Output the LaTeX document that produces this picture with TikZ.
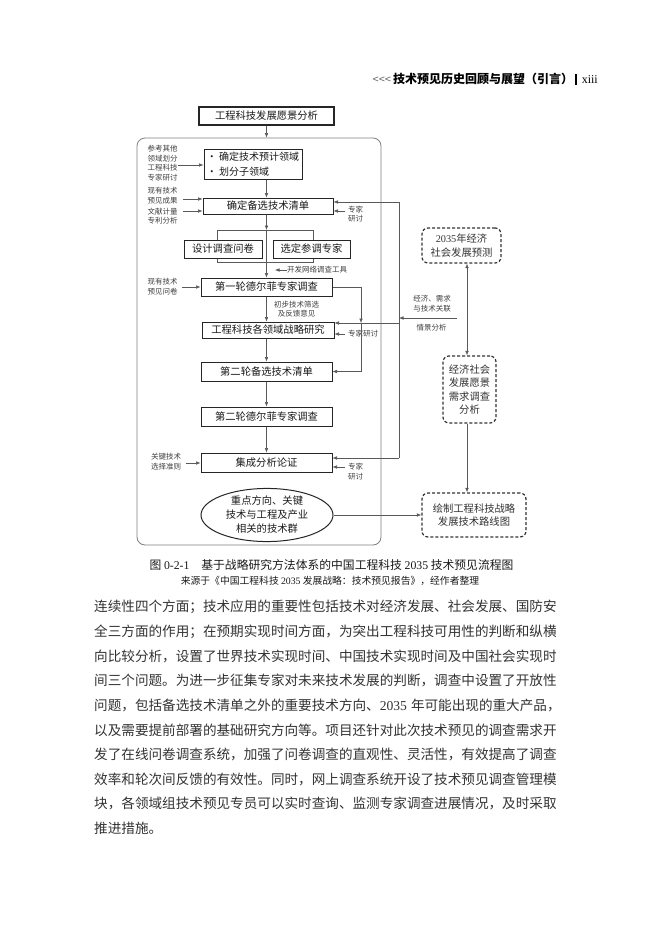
\documentclass[tikz,border=0pt]{standalone}
\usepackage{fontspec}
\setmainfont{Liberation Serif}
\newfontfamily\cjk{Noto Sans CJK SC}
\usetikzlibrary{arrows.meta,shapes.geometric,calc}
\XeTeXlinebreaklocale "zh"
\XeTeXlinebreakskip=0pt plus 1fil
\newcommand{\bodyline}[1]{\makebox[476pt][s]{#1}}
\tikzset{
 box/.style={draw=black!85, line width=1pt, inner sep=0pt, align=center, font=\cjk\fontsize{10.3}{12.5}\selectfont, text=black!90},
 wh/.style 2 args={minimum width=#1, minimum height=#2},
 dbox/.style={draw=black!80, line width=1.2pt, dash pattern=on 3pt off 2pt, rounded corners=6pt, inner sep=0pt, align=center, font=\cjk\fontsize{10.3}{13.5}\selectfont, text=black!80},
 lab/.style={inner sep=0pt, align=center, font=\cjk\fontsize{7.5}{9.6}\selectfont, text=black!75},
 conn/.style={draw=black!65, line width=0.6pt},
 arr/.style={conn, -{Latex[length=4.5pt,width=3.6pt]}},
 dblarr/.style={conn, {Latex[length=4.5pt,width=3.6pt]}-{Latex[length=4.5pt,width=3.6pt]}},
 container/.style={draw=black!50, line width=0.8pt, rounded corners=8pt, inner sep=0pt},
 body/.style={anchor=west, inner sep=0pt, font=\cjk\fontsize{13.6}{16}\selectfont, text=black!80},
}
\begin{document}
\begin{tikzpicture}[x=1pt,y=-1pt]
\fill[white] (0,0) rectangle (661,926);
\path[use as bounding box] (0,0) rectangle (661,926);

% header
\node[anchor=east, inner sep=0pt] (hdr) at (598,79)
 {\textcolor{black!60}{\cjk\fontsize{11}{12}\selectfont <<<}\hspace{2pt}{\cjk\bfseries\fontsize{12}{14}\selectfont 技术预见历史回顾与展望（引言）}\hspace{2pt}\rule[-1.5pt]{1.8pt}{11pt}\hspace{5pt}{\fontsize{12}{14}\selectfont xiii}};

% outer container
\node[container, wh={244}{407}] (outer) at (259,341.5) {};
\coordinate (ax) at (266.5,0);

% main boxes
\node[box, line width=1.3pt, wh={135}{18}] (top) at (266.5,116) {工程科技发展愿景分析};
\node[box, wh={98}{30}, align=left, font=\cjk\fontsize{10}{15}\selectfont] (b2) at (253,164) {• 确定技术预计领域\\• 划分子领域};
\node[box, wh={130}{16}] (b3) at (268,206) {确定备选技术清单};
\node[box, wh={78}{18}] (q1) at (223,249) {设计调查问卷};
\node[box, wh={77}{18}] (q2) at (311.5,249) {选定参调专家};
\node[box, wh={131}{18}] (b4) at (266.5,287) {第一轮德尔菲专家调查};
\node[box, wh={132}{16}] (b5) at (268,330) {工程科技各领域战略研究};
\node[box, wh={131}{19}] (b6) at (266.5,371.5) {第二轮备选技术清单};
\node[box, wh={131}{19}] (b7) at (266.5,416.5) {第二轮德尔菲专家调查};
\node[box, wh={131}{19}] (b8) at (266.5,462.5) {集成分析论证};
\node[box, ellipse, wh={132}{44}, font=\cjk\fontsize{10.3}{14}\selectfont] (ell) at (267,515) {重点方向、关键\\技术与工程及产业\\相关的技术群};

% dashed boxes
\node[dbox, wh={79}{35}] (d1) at (461.5,245.5) {{\rmfamily 2035}年经济\\社会发展预测};
\node[dbox, wh={53}{67}] (d2) at (469.5,389.5) {经济社会\\发展愿景\\需求调查\\分析};
\node[dbox, wh={104}{44}] (d3) at (474,515) {绘制工程科技战略\\发展技术路线图};

% left labels
\node[lab] (l1) at (162.5,163) {参考其他\\领域划分\\工程科技\\专家研讨};
\node[lab] (l2) at (162.5,195.5) {现有技术\\预见成果};
\node[lab] (l3) at (162.5,216) {文献计量\\专利分析};
\node[lab] (l4) at (162.5,286.5) {现有技术\\预见问卷};
\node[lab] (l5) at (166,461.5) {关键技术\\选择准则};

% right small labels
\node[lab] (r3) at (355.5,214) {专家\\研讨};
\node[lab, anchor=west] (dev) at (287,270) {开发网络调查工具};
\node[lab] (fb) at (296.5,309) {初步技术筛选\\及反馈意见};
\node[lab, anchor=west] (r5) at (348,334) {专家研讨};
\node[lab] (r8) at (355.5,471.5) {专家\\研讨};
\node[lab] (ec) at (432,303.5) {经济、需求\\与技术关联};
\node[lab] (sc) at (431.5,328) {情景分析};

% coordinates
\coordinate (la1) at (178,165);
\coordinate (la2) at (183,199);
\coordinate (la3) at (183,211);
\coordinate (la4) at (182,287);
\coordinate (la5) at (186,463);
\coordinate (ra3) at (345,211);
\coordinate (ra5) at (345,334);
\coordinate (ra8) at (345,467);
\coordinate (devend) at (275,270);
\coordinate (brTL) at (217,230);
\coordinate (brTR) at (313,230);
\coordinate (brBL) at (217,262);
\coordinate (brBR) at (313,262);
\coordinate (k1) at (361,287);
\coordinate (k2) at (361,323);
\coordinate (vtop) at (399,202);
\coordinate (v5) at (399,323);
\coordinate (vbot) at (399,458);
\coordinate (r0) at (457,318);
\coordinate (vr) at (399,318);
\coordinate (vx) at (467,0);

% main flow
\draw[arr] (top.south -| ax) -- (outer.north -| ax);
\draw[arr] (b2.south -| ax) -- (b3.north -| ax);
\draw[arr] (b3.south -| ax) -- (brTL -| ax);
\draw[conn] (q1.north -| brTL) -- (brTL) -- (brTR) -- (q2.north -| brTR);
\draw[conn] (q1.south -| brBL) -- (brBL) -- (brBR) -- (q2.south -| brBR);
\draw[conn] (brTL -| ax) -- (brBL -| ax);
\draw[arr] (brBL -| ax) -- (b4.north -| ax);
\draw[arr] (b4.south -| ax) -- (b5.north -| ax);
\draw[arr] (b5.south -| ax) -- (b6.north -| ax);
\draw[arr] (b6.south -| ax) -- (b7.north -| ax);
\draw[arr] (b7.south -| ax) -- (b8.north -| ax);

% left arrows
\draw[arr] (la1) -- (la1 -| b2.west);
\draw[arr] (la2) -- (la2 -| b3.west);
\draw[arr] (la3) -- (la3 -| b3.west);
\draw[arr] (la4) -- (la4 -| b4.west);
\draw[arr] (la5) -- (la5 -| b8.west);

% right small arrows
\draw[arr] (ra3) -- (ra3 -| b3.east);
\draw[arr] (ra5) -- (ra5 -| b5.east);
\draw[arr] (ra8) -- (ra8 -| b8.east);
\draw[arr] (dev.west) -- (devend);

% feedback from round 1
\draw[conn] (b4.east) -- (k1);
\draw[arr] (k1) -- (k2);
\draw[arr] (k2) -- (k2 |- b6.east) -- (b6.east);

% right vertical distribution
\draw[conn] (vtop) -- (vbot);
\draw[arr] (vtop) -- (vtop -| b3.east);
\draw[arr] (v5) -- (v5 -| b5.east);
\draw[arr] (vbot) -- (vbot -| b8.east);
\draw[arr] (r0) -- (vr);

% right column
\draw[dblarr] (d1.south -| vx) -- (d2.north -| vx);
\draw[arr] (d2.south -| vx) -- (d3.north -| vx);
\draw[arr] (ell.east) -- (ell.east -| d3.west);

% caption
\node[inner sep=0pt, font=\cjk\fontsize{11.8}{14}\selectfont, text=black!90] (cap1) at (331.5,565)
 {图 {\rmfamily 0-2-1}\hspace{1em}基于战略研究方法体系的中国工程科技 {\rmfamily 2035} 技术预见流程图};
\node[inner sep=0pt, font=\cjk\fontsize{9.8}{12}\selectfont, text=black!90] (cap2) at (330,581)
 {来源于《中国工程科技 {\rmfamily 2035} 发展战略：技术预见报告》，经作者整理};

% body text
\node[body] (t1) at (94,607) {\bodyline{连续性四个方面；技术应用的重要性包括技术对经济发展、社会发展、国防安}};
\node[body] (t2) at (94,631.6) {\bodyline{全三方面的作用；在预期实现时间方面，为突出工程科技可用性的判断和纵横}};
\node[body] (t3) at (94,656.2) {\bodyline{向比较分析，设置了世界技术实现时间、中国技术实现时间及中国社会实现时}};
\node[body] (t4) at (94,680.8) {\bodyline{间三个问题。为进一步征集专家对未来技术发展的判断，调查中设置了开放性}};
\node[body] (t5) at (94,705.4) {\bodyline{问题，包括备选技术清单之外的重要技术方向、\mbox{{\rmfamily 2035}\hspace{4pt}年}可能出现的重大产品，}};
\node[body] (t6) at (94,730) {\bodyline{以及需要提前部署的基础研究方向等。项目还针对此次技术预见的调查需求开}};
\node[body] (t7) at (94,754.6) {\bodyline{发了在线问卷调查系统，加强了问卷调查的直观性、灵活性，有效提高了调查}};
\node[body] (t8) at (94,779.2) {\bodyline{效率和轮次间反馈的有效性。同时，网上调查系统开设了技术预见调查管理模}};
\node[body] (t9) at (94,803.8) {\bodyline{块，各领域组技术预见专员可以实时查询、监测专家调查进展情况，及时采取}};
\node[body] (t10) at (94,828.4) {推进措施。};
\end{tikzpicture}
\end{document}
